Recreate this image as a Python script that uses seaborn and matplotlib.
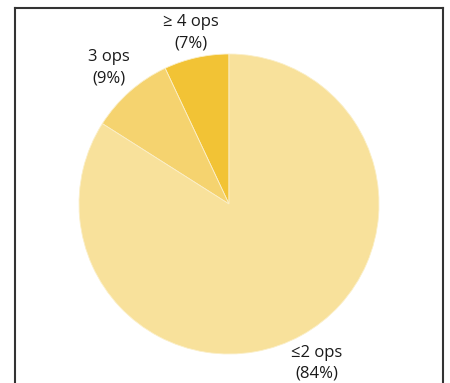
import matplotlib
matplotlib.use('Agg')
import matplotlib.pyplot as plt
import seaborn as sns
import numpy as np

# 数据
categories = ['≥ 4 ops', '3 ops', '≤2 ops']
shares = [7, 9, 84]
colors = ['#F2C335', '#F5D36F', '#F8E19B']
label_dist = [1.17, 1.21, 1.21]

sns.set_theme(style='white')
plt.rcParams['font.family'] = ['Open Sans', 'DejaVu Sans']

fig = plt.figure(figsize=(4.5, 3.83), dpi=100)
# 轴框：左/上/右可见，底部超出画布
ax = fig.add_axes([15 / 450, -20 / 383, 428 / 450, 395 / 383])

labels = [f'{c}\n({s}%)' for c, s in zip(categories, shares)]
wedges, texts = ax.pie(shares, colors=colors, startangle=90, counterclock=True,
                       labels=labels, labeldistance=1.2,
                       wedgeprops=dict(edgecolor='#FBEFC8', linewidth=0.6),
                       textprops=dict(fontsize=12, color='#1a1a1a', linespacing=1.4))
# 标签放在扇区中线方向
for w, t, d in zip(wedges, texts, label_dist):
    ang = np.deg2rad((w.theta1 + w.theta2) / 2)
    t.set_position((d * np.cos(ang), d * np.sin(ang)))
    t.set_ha('center')
    t.set_va('center')

ax.set_aspect('auto')
ax.set_xlim(-214 / 150, 214 / 150)
ax.set_ylim(-199 / 150, 196 / 150)
ax.set_frame_on(True)
for side in ['top', 'left', 'right']:
    ax.spines[side].set_visible(True)
    ax.spines[side].set_color('#333333')
    ax.spines[side].set_linewidth(1.5)
ax.spines['bottom'].set_visible(False)
ax.set_xticks([])
ax.set_yticks([])

plt.savefig('out.png', dpi=100)
